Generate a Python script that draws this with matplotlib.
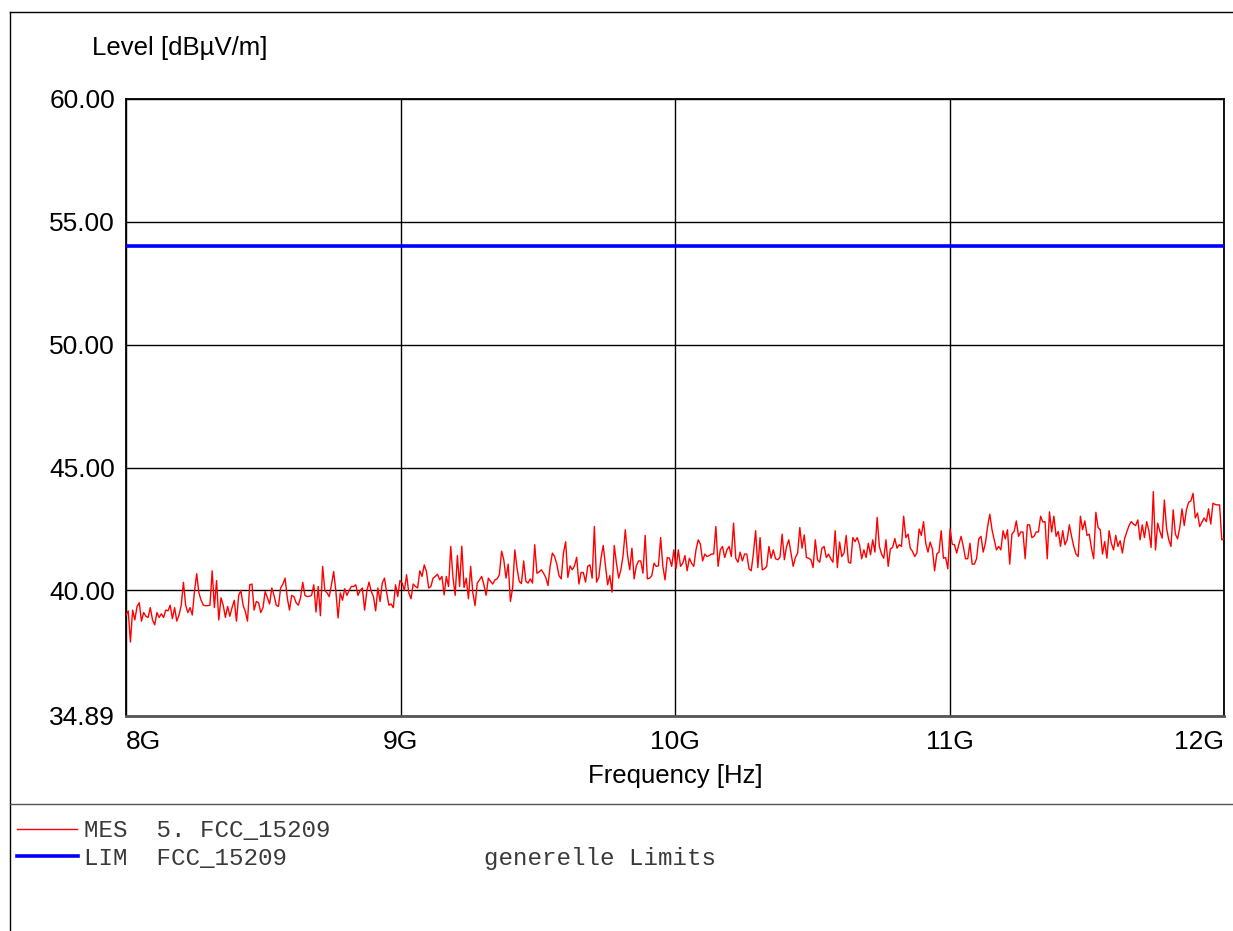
import numpy as np
import matplotlib
matplotlib.use("Agg")
import matplotlib.pyplot as plt
from matplotlib.lines import Line2D

F_START = 8e9
F_STOP = 12e9
LIMIT_LEVEL = 54.0

mes_part1 = [39.0, 39.17, 37.9, 39.2, 38.8, 39.35, 39.5, 38.75, 39.1, 38.95, 38.9, 39.3, 38.8, 38.6,
             39.1, 38.9, 39.05, 38.9, 39.2, 39.17, 39.4, 38.85, 39.3, 38.75, 39.0, 39.4, 40.33, 39.4,
             39.1, 39.3, 39.0, 39.96, 40.68, 39.9, 39.6, 39.4, 39.38, 39.38, 39.4, 40.8, 39.3, 40.4,
             38.8, 39.7, 39.4, 38.9, 39.35, 38.95, 39.3, 39.6, 38.75, 39.8, 40.0, 39.4, 39.15, 38.75,
             40.23, 40.26, 39.2, 39.55, 39.5, 39.1, 39.3, 39.96, 39.7, 39.45, 40.1, 39.8, 39.4, 39.35,
             40.1, 40.26, 40.5, 39.7, 39.2, 39.8, 39.75, 39.5, 39.4, 39.7, 40.33, 39.8, 39.75]
mes_part2 = [39.76, 39.8, 40.23, 39.12, 40.16, 38.97, 40.98, 40.0, 39.9, 39.75, 40.23, 40.77, 39.96,
             38.88, 39.9, 39.6, 40.07, 39.8, 40.0, 40.16, 40.16, 40.23, 39.8, 40.0, 40.1, 39.2, 39.96,
             40.34, 39.96, 39.75, 39.17, 40.1, 39.55, 40.3, 40.5, 39.9, 39.4, 39.45, 39.3, 40.23, 39.75,
             40.4, 40.3, 40.0, 40.64, 39.9, 39.66, 40.26, 40.16, 40.1, 40.8, 40.57, 41.04, 40.77, 40.1,
             40.16, 40.5, 40.57, 40.66, 40.43, 40.57, 39.82, 40.57, 40.16, 41.79, 40.53, 39.8, 41.42,
             40.16, 41.8, 40.12, 40.5, 39.66, 40.98, 39.9, 39.38, 40.3, 40.43, 40.57, 40.23, 39.8, 40.5,
             40.37, 40.26]
mes_part3 = [40.43, 40.47, 40.64, 41.6, 41.25, 40.5, 41.07, 39.55, 40.1, 41.65, 40.9, 40.37, 40.28,
             41.2, 40.37, 40.3, 40.47, 40.3, 41.86, 40.7, 40.75, 40.84, 40.7, 40.53, 40.2, 41.0, 41.52,
             41.38, 41.07, 40.6, 40.47, 41.52, 41.98, 40.53, 41.0, 40.84, 41.0, 41.35, 40.26, 40.73,
             40.73, 40.34, 40.98, 41.04, 40.5, 42.6, 40.34, 40.53, 41.31, 41.83, 41.04, 40.23, 40.6,
             39.93, 41.83, 41.11, 40.5, 40.84, 41.42, 42.47, 41.45, 40.84, 41.72, 40.47, 41.0, 41.2,
             41.2, 40.7, 42.24, 40.47, 40.5, 40.6, 41.11, 40.98, 41.0, 42.15, 40.98, 40.43, 41.34,
             41.31, 40.98, 41.65, 40.9, 41.65]
mes_part4 = [40.98, 41.11, 41.42, 40.8, 41.31, 41.11, 40.98, 41.65, 42.06, 41.88, 41.2, 41.48, 41.38,
             41.42, 41.48, 41.48, 42.6, 40.98, 41.65, 41.79, 41.34, 41.65, 41.79, 41.38, 42.74, 41.31,
             41.15, 41.56, 41.2, 41.48, 41.48, 40.88, 40.8, 41.52, 42.43, 40.93, 42.15, 40.84, 40.88,
             40.98, 41.79, 41.31, 41.65, 41.29, 41.25, 41.34, 42.29, 41.25, 41.79, 42.06, 41.52, 40.98,
             41.34, 41.52, 42.56, 41.72, 42.26, 41.34, 41.31, 41.25, 40.93, 42.06, 41.25, 41.15, 41.72,
             41.79, 41.34, 41.48, 41.29, 41.15, 42.43, 40.93, 41.97, 41.38, 41.52, 42.24, 41.15, 41.11,
             42.15, 41.99, 42.15, 41.86, 41.29, 41.65]
mes_part5 = [41.34, 41.92, 41.45, 42.06, 41.56, 42.97, 41.79, 41.48, 41.31, 42.06, 40.98, 41.69, 41.75,
             42.11, 41.72, 41.86, 41.79, 43.02, 42.15, 42.29, 41.72, 41.59, 41.38, 41.52, 42.5, 42.24,
             42.8, 41.92, 41.56, 41.97, 41.69, 40.8, 41.48, 41.56, 42.43, 41.31, 41.34, 40.88, 42.5,
             41.88, 41.86, 41.52, 41.88, 42.2, 41.79, 41.29, 41.29, 41.92, 41.07, 41.07, 41.29, 42.1,
             42.2, 41.56, 41.92, 42.6, 43.1, 42.47, 42.06, 41.65, 41.79, 41.65, 42.43, 42.1, 42.47,
             41.07, 42.29, 42.4, 42.83, 42.2, 42.38, 42.38, 41.29, 42.67, 42.67, 42.15, 42.2, 42.38,
             42.38, 43.02, 42.78, 42.8, 41.29, 43.2]
mes_part6 = [42.38, 43.02, 42.2, 42.4, 41.79, 42.43, 41.86, 42.06, 42.67, 42.2, 41.79, 41.48, 41.38,
             43.02, 42.47, 42.83, 42.24, 42.29, 41.72, 41.29, 43.18, 42.56, 42.47, 41.48, 41.99, 41.31,
             42.43, 41.92, 41.65, 42.24, 41.79, 42.02, 41.52, 42.1, 42.38, 42.64, 42.8, 42.7, 42.64,
             42.87, 42.06, 42.67, 42.15, 42.8, 42.43, 41.75, 44.02, 41.65, 42.74, 42.4, 42.13, 43.68,
             42.53, 42.06, 41.79, 43.28, 42.29, 42.1, 42.56, 43.32, 42.64, 43.28, 43.59, 43.64, 43.95,
             42.95, 43.15, 42.6, 42.78, 42.95, 42.8, 43.32, 42.7, 43.55, 43.5, 43.48, 43.48, 42.06, 42.1]

y_ticks = [34.89, 40.0, 45.0, 50.0, 55.0, 60.0]
x_ticks = [8e9, 9e9, 10e9, 11e9, 12e9]
x_tick_labels = ["8G", "9G", "10G", "11G", "12G"]

mes_level = np.array(mes_part1 + mes_part2 + mes_part3 + mes_part4 + mes_part5 + mes_part6)
freq = np.linspace(F_START, F_STOP, len(mes_level))

W, H = 1233, 931
fig = plt.figure(figsize=(W / 100, H / 100), dpi=100)
SANS = "Liberation Sans"
MONO = "Liberation Mono"


def fx(px):
    return px / W


def fy(py):
    return 1 - py / H


# outer frame + separator
fig.add_artist(Line2D([fx(10), fx(10)], [fy(12), fy(H + 5)], color="black", lw=1.0))
fig.add_artist(Line2D([fx(10), fx(W + 5)], [fy(12), fy(12)], color="black", lw=1.0))
fig.add_artist(Line2D([fx(10), fx(W + 5)], [fy(804), fy(804)], color="#555555", lw=1.0))

ax = fig.add_axes([fx(126), fy(716), fx(1224) - fx(126), (716 - 99) / H])
ax.plot(freq, mes_level, color="#ff0000", lw=1.0, zorder=3)
ax.axhline(LIMIT_LEVEL, color="#0000ff", lw=2.6, zorder=3)

ax.set_xlim(F_START, F_STOP)
ax.set_ylim(y_ticks[0], y_ticks[-1])
ax.set_yticks(y_ticks)
ax.set_yticklabels(["%.2f" % v for v in y_ticks], fontsize=19, family=SANS)
ax.set_xticks(x_ticks)
ax.set_xticklabels([])
ax.tick_params(length=0, pad=8)
ax.grid(True, color="black", lw=1.0)
for s in ax.spines.values():
    s.set_linewidth(1.3)
    s.set_color("black")
ax.spines["bottom"].set_color("#555555")
ax.spines["bottom"].set_linewidth(2.0)

# x tick labels, first left aligned, last right aligned
for xv, lab in zip(x_ticks, x_tick_labels):
    ha = "center"
    if xv == x_ticks[0]:
        ha = "left"
    elif xv == x_ticks[-1]:
        ha = "right"
    ax.text(xv, -0.022, lab, transform=ax.get_xaxis_transform(), ha=ha, va="top",
            fontsize=19, family=SANS)

fig.text(fx(675), fy(776), "Frequency [Hz]", ha="center", va="center", fontsize=18.5, family=SANS)
fig.text(fx(92), fy(48), "Level [dB\u00b5V/m]", ha="left", va="center", fontsize=18.5, family=SANS)

# legend block
fig.add_artist(Line2D([fx(17), fx(77)], [fy(829), fy(829)], color="#ff0000", lw=1.0))
fig.add_artist(Line2D([fx(17), fx(78)], [fy(856), fy(856)], color="#0000ff", lw=2.6))
fig.text(fx(84), fy(831), "MES  5. FCC_15209", ha="left", va="center", fontsize=17.4,
         family=MONO, color="#3a3a3a")
fig.text(fx(84), fy(858), "LIM  FCC_15209", ha="left", va="center", fontsize=17.4,
         family=MONO, color="#3a3a3a")
fig.text(fx(484), fy(858), "generelle Limits", ha="left", va="center", fontsize=17.4,
         family=MONO, color="#3a3a3a")

fig.savefig("out.png", dpi=100)
